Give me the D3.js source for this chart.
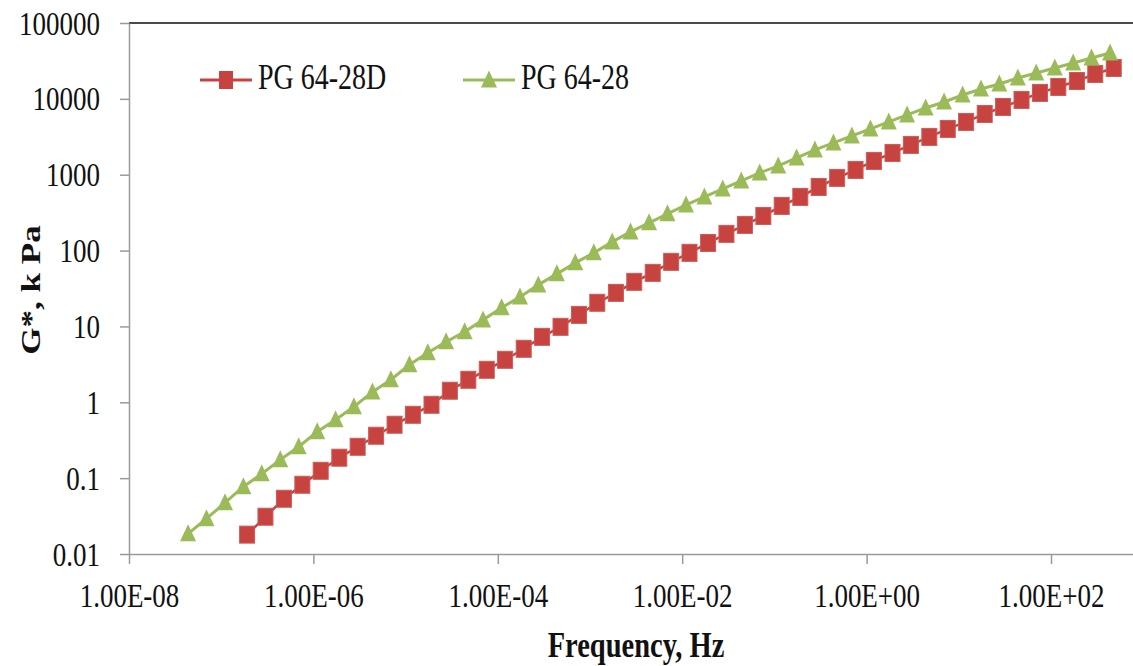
<!DOCTYPE html>
<html>
<head>
<meta charset="utf-8">
<script src="https://cdn.jsdelivr.net/npm/d3@7/dist/d3.min.js"></script>
<style>
  html, body { margin: 0; padding: 0; background: #fff; }
  svg { display: block; }
  text { font-family: "Liberation Serif", "Times New Roman", serif; fill: #111; }
</style>
</head>
<body>
<svg id="chart" width="1133" height="666"></svg>
<script>
// Complex modulus master curves, G* (kPa) versus reduced frequency (Hz)
const seriesNames = ["PG 64-28D", "PG 64-28"];

const freqModified = [
  1.91e-7, 3.02e-7, 4.79e-7, 7.59e-7,
  1.20e-6, 1.91e-6, 3.02e-6, 4.79e-6, 7.59e-6,
  1.20e-5, 1.91e-5, 3.02e-5, 4.79e-5, 7.59e-5,
  1.20e-4, 1.91e-4, 3.02e-4, 4.79e-4, 7.59e-4,
  1.20e-3, 1.91e-3, 3.02e-3, 4.79e-3, 7.59e-3,
  1.20e-2, 1.91e-2, 3.02e-2, 4.79e-2, 7.59e-2,
  1.20e-1, 1.91e-1, 3.02e-1, 4.79e-1, 7.59e-1,
  1.20, 1.91, 3.02, 4.79, 7.59,
  12.0, 19.1, 30.2, 47.9, 75.9,
  120, 191, 302, 479
];
const gModified = [
  0.0180, 0.0310, 0.0535, 0.0818, 0.125, 0.186, 0.259, 0.362, 0.506, 0.684,
  0.927, 1.42, 1.98, 2.68, 3.63, 5.07, 7.29, 9.88, 14.2, 20.5,
  27.7, 38.7, 50.8, 71.0, 93.3, 126, 166, 218, 286, 388,
  510, 690, 908, 1156, 1520, 1936, 2470, 3150, 4013, 4962,
  6324, 7820, 9680, 11970, 14350, 17200, 21300, 25550
];

const freqBase = [
  4.37e-8, 6.92e-8,
  1.10e-7, 1.74e-7, 2.75e-7, 4.37e-7, 6.92e-7,
  1.10e-6, 1.74e-6, 2.75e-6, 4.37e-6, 6.92e-6,
  1.10e-5, 1.74e-5, 2.75e-5, 4.37e-5, 6.92e-5,
  1.10e-4, 1.74e-4, 2.75e-4, 4.37e-4, 6.92e-4,
  1.10e-3, 1.74e-3, 2.75e-3, 4.37e-3, 6.92e-3,
  1.10e-2, 1.74e-2, 2.75e-2, 4.37e-2, 6.92e-2,
  1.10e-1, 1.74e-1, 2.75e-1, 4.37e-1, 6.92e-1,
  1.10, 1.74, 2.75, 4.37, 6.92,
  11.0, 17.4, 27.5, 43.7, 69.2,
  110, 174, 275, 437
];
const gBase = [
  0.0185, 0.0292, 0.0474, 0.0771, 0.114, 0.175, 0.259, 0.408, 0.588, 0.873,
  1.37, 1.98, 3.12, 4.49, 6.27, 8.49, 12.2, 17.6, 24.5, 35.3,
  49.3, 68.9, 93.3, 130, 176, 232, 305, 400, 510, 650,
  828, 1057, 1306, 1665, 2121, 2624, 3245, 4013, 4962, 6138,
  7588, 9100, 11250, 13500, 15700, 18850, 21950, 25550, 29700, 34600,
  40250
];

const xTickValues = [1e-8, 1e-6, 1e-4, 1e-2, 1e0, 1e2];
const xTickLabels = ["1.00E-08", "1.00E-06", "1.00E-04", "1.00E-02", "1.00E+00", "1.00E+02"];
const yTickValues = [0.01, 0.1, 1, 10, 100, 1000, 10000, 100000];
const yTickLabels = ["0.01", "0.1", "1", "10", "100", "1000", "10000", "100000"];

const colors = { modified: "#C6433F", base: "#9BBB59" };
const stretch = 1.25;   // tall, narrow lettering

const svg = d3.select("#chart");
const plotLeft = 129, plotTop = 23, plotBottom = 554, decadePx = 92.2;

const x = d3.scaleLog().domain([1e-8, 1e3]).range([plotLeft, plotLeft + 11 * decadePx]);
const y = d3.scaleLog().domain([0.01, 1e5]).range([plotBottom, plotTop]);

// frame line along the top
svg.append("line")
  .attr("x1", plotLeft).attr("x2", 1133).attr("y1", plotTop).attr("y2", plotTop)
  .attr("stroke", "#4a4a4a").attr("stroke-width", 2);

// x axis
const xAxis = svg.append("g").attr("transform", `translate(0,${plotBottom})`)
  .call(d3.axisBottom(x).tickValues(xTickValues)
    .tickFormat((d, i) => xTickLabels[i]).tickSize(10).tickSizeOuter(0));
xAxis.select(".domain").attr("stroke", "#9a9a9a").attr("stroke-width", 1.5)
  .attr("d", `M${plotLeft},0.5H1133`);
xAxis.selectAll(".tick line").attr("stroke", "#9a9a9a").attr("stroke-width", 1.5);
xAxis.selectAll(".tick text")
  .attr("y", 0).attr("dy", null)
  .attr("transform", `translate(0,53) scale(1,${stretch})`)
  .style("font-size", "27px").style("font-family", "Liberation Serif").attr("fill", "#111");

// y axis
const yAxis = svg.append("g").attr("transform", `translate(${plotLeft},0)`)
  .call(d3.axisLeft(y).tickValues(yTickValues)
    .tickFormat((d, i) => yTickLabels[i]).tickSize(9).tickSizeOuter(0));
yAxis.select(".domain").attr("stroke", "#9a9a9a").attr("stroke-width", 1.5);
yAxis.selectAll(".tick line").attr("stroke", "#9a9a9a").attr("stroke-width", 1.5);
yAxis.selectAll(".tick text")
  .attr("x", 0).attr("dy", null)
  .attr("transform", `translate(-29,11) scale(1,${stretch})`)
  .style("font-size", "27px").style("font-family", "Liberation Serif").attr("fill", "#111");

// axis titles
svg.append("text")
  .attr("transform", `translate(636,657) scale(1,${stretch})`)
  .attr("text-anchor", "middle")
  .style("font-size", "28.5px").style("font-weight", "bold")
  .text("Frequency, Hz");

svg.append("text")
  .attr("transform", `translate(40,290) scale(1,${stretch}) rotate(-90)`)
  .attr("text-anchor", "middle")
  .style("font-size", "28px").style("font-weight", "bold")
  .text("G*, k Pa");

const line = d3.line().x(d => x(d[0])).y(d => y(d[1]));
const modPts = freqModified.map((f, i) => [f, gModified[i]]);
const basePts = freqBase.map((f, i) => [f, gBase[i]]);

const sq = 15, sqH = 17;
const tri = (cx, cy) => `M${cx},${cy - 9.5}L${cx + 8},${cy + 7.5}L${cx - 8},${cy + 7.5}Z`;

// PG 64-28D
svg.append("path").datum(modPts).attr("d", line)
  .attr("fill", "none").attr("stroke", colors.modified).attr("stroke-width", 2.5);
svg.append("g").selectAll("rect").data(modPts).join("rect")
  .attr("x", d => x(d[0]) - sq / 2).attr("y", d => y(d[1]) - sqH / 2)
  .attr("width", sq).attr("height", sqH)
  .attr("fill", colors.modified).attr("stroke", "#D05A56").attr("stroke-width", 1);

// PG 64-28
svg.append("path").datum(basePts).attr("d", line)
  .attr("fill", "none").attr("stroke", colors.base).attr("stroke-width", 3);
svg.append("g").selectAll("path").data(basePts).join("path")
  .attr("d", d => tri(x(d[0]), y(d[1])))
  .attr("fill", colors.base);

// legend
const legend = svg.append("g");
const legendItems = [
  { name: seriesNames[0], color: colors.modified, x0: 200, shape: "square" },
  { name: seriesNames[1], color: colors.base, x0: 463, shape: "triangle" }
];
legendItems.forEach(it => {
  const ly = 80;
  legend.append("line").attr("x1", it.x0).attr("x2", it.x0 + 52)
    .attr("y1", ly).attr("y2", ly).attr("stroke", it.color).attr("stroke-width", 3);
  const cx = it.x0 + 26;
  if (it.shape === "square") {
    legend.append("rect").attr("x", cx - 7).attr("y", ly - 9)
      .attr("width", 14).attr("height", 18).attr("fill", it.color);
  } else {
    legend.append("path").attr("d", tri(cx, ly)).attr("fill", it.color);
  }
  legend.append("text")
    .attr("transform", `translate(${it.x0 + 58},89) scale(1,${stretch})`)
    .style("font-size", "28px")
    .text(it.name);
});
</script>
</body>
</html>
